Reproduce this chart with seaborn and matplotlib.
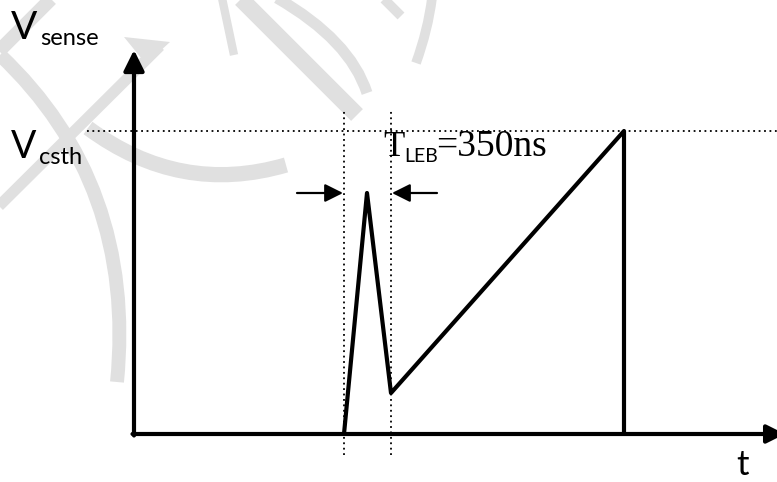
import numpy as np
import pandas as pd
import matplotlib
matplotlib.use("Agg")
import matplotlib.pyplot as plt
import seaborn as sns
from matplotlib.path import Path
from matplotlib.patches import PathPatch, Polygon

# ---- data (schematic units: origin at the axes crossing) ----
wave_t = [210, 233, 257, 490, 490]      # time points of the V_sense waveform
wave_v = [0, 241, 41, 303, 0]           # V_sense values
v_csth = 303                            # threshold level
leb_start, leb_end = 210, 257           # leading-edge blanking window
t_axis_end, v_axis_end = 651, 384
label_vsense = ("V", "sense")
label_vcsth = ("V", "csth")
label_leb = ("T", "LEB", "=350ns")
label_t = "t"

OX, OY = 134, 434
def P(px, py):
    return (px - OX, OY - py)

sns.set_theme(style="white")
plt.rcParams['font.family'] = ['Lato', 'DejaVu Sans']
plt.rcParams['text.color'] = 'black'

fig = plt.figure(figsize=(7.77, 4.82), dpi=100)
ax = fig.add_axes([0, 0, 1, 1])

# ---- watermark ----
wm = "#e0e0e0"
def stroke(pts, codes, lw):
    verts = [P(*p) for p in pts]
    ax.add_patch(PathPatch(Path(verts, codes), fc="none", ec=wm, lw=lw,
                           capstyle="butt", zorder=0))
L2 = [Path.MOVETO, Path.LINETO]
C3 = [Path.MOVETO, Path.CURVE3, Path.CURVE3]
C4 = [Path.MOVETO, Path.CURVE4, Path.CURVE4, Path.CURVE4]
stroke([(52, -2), (-2, 52)], L2, 10)
stroke([(0, 55), (90, 140), (130, 250), (117, 382)], C4, 10)
stroke([(160, 46), (-2, 207)], L2, 8)
ax.add_patch(Polygon([P(124, 37), P(170, 42), P(146, 64)], closed=True,
                     fc=wm, ec="none", zorder=0))
stroke([(88, 128), (180, 196), (286, 165)], C3, 11)
stroke([(222, -2), (234, 55)], L2, 6)
stroke([(240, -2), (357, 115)], L2, 12)
stroke([(277, -2), (350, 40), (367, 93)], C3, 8)
stroke([(383, -2), (401, 16)], L2, 7)
stroke([(432, -2), (428, 30), (416, 63)], C3, 7)

# ---- dotted guide lines ----
dot = dict(color="black", lw=1.3, ls=(0, (1, 2)), zorder=1)
ax.plot([-OX + 87, 777 - OX], [v_csth, v_csth], **dot)
for xv in (leb_start, leb_end):
    ax.plot([xv, xv], [OY - 455, OY - 110], **dot)

# ---- axes arrows ----
arrow_v = dict(arrowstyle="-|>,head_length=1.25,head_width=0.62", lw=3,
               color="black", shrinkA=0, shrinkB=0, mutation_scale=10)
arrow_t = dict(arrowstyle="-|>,head_length=1.1,head_width=0.55", lw=3,
               color="black", shrinkA=0, shrinkB=0, mutation_scale=10)
ax.annotate("", xy=(0, v_axis_end), xytext=(0, -1.5), arrowprops=arrow_v,
            zorder=3, annotation_clip=False)
ax.annotate("", xy=(t_axis_end, 0), xytext=(-1.5, 0), arrowprops=arrow_t,
            zorder=3, annotation_clip=False)

# ---- waveform ----
df = pd.DataFrame({"t": wave_t, "v": wave_v})
sns.lineplot(data=df, x="t", y="v", sort=False, estimator=None, color="black",
             lw=3, ax=ax, zorder=4)
ax.set_xlim(-OX, 777 - OX)
ax.set_ylim(OY - 482, OY)
ax.axis("off")

# ---- dimension arrows for T_LEB ----
dim = dict(arrowstyle="-|>,head_length=1.1,head_width=0.55", lw=1.6,
           color="black", shrinkA=0, shrinkB=0, mutation_scale=10)
ax.annotate("", xy=(leb_start - 1, 241), xytext=(leb_start - 47, 241), arrowprops=dim)
ax.annotate("", xy=(leb_end + 1, 241), xytext=(leb_end + 46, 241), arrowprops=dim)

# ---- labels ----
ax.text(*P(11, 39), label_vsense[0], fontsize=28, va="baseline", ha="left")
ax.text(*P(40, 45), label_vsense[1], fontsize=17, va="baseline", ha="left")
ax.text(*P(11, 158), label_vcsth[0], fontsize=27, va="baseline", ha="left")
ax.text(*P(39, 164), label_vcsth[1], fontsize=17, va="baseline", ha="left")
ax.text(*P(383, 156), label_leb[0], fontsize=25, va="baseline", ha="left",
        family="Liberation Serif")
ax.text(*P(404, 162), label_leb[1], fontsize=14, va="baseline", ha="left")
ax.text(*P(436, 156), label_leb[2], fontsize=27, va="baseline", ha="left",
        family="Liberation Serif")
ax.text(*P(736, 475), label_t, fontsize=25, va="baseline", ha="left")

fig.savefig("out.png", dpi=100)
